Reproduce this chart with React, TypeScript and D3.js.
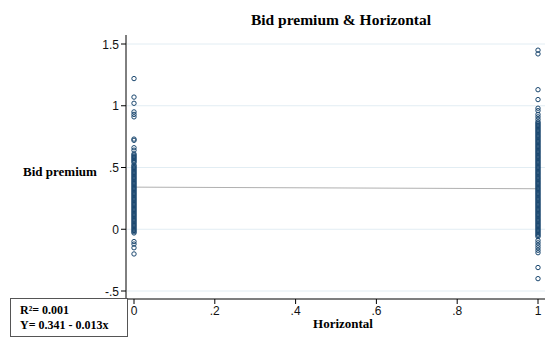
import React from 'react';
import * as d3 from 'd3';

const title = 'Bid premium & Horizontal';
const xLabel = 'Horizontal';
const yLabel = 'Bid premium';
const xTicks = [0, 0.2, 0.4, 0.6, 0.8, 1];
const yTicks = [-0.5, 0, 0.5, 1, 1.5];
const fmt = (v: number) => (v === 0 ? '0' : String(v).replace(/^(-?)0\./, '$1.'));

// Horizontal = 0
const premiumH0 = [
  1.22, 1.07, 1.02, 0.95, 0.93, 0.91, 0.73, 0.72, 0.66, 0.64,
  0.61, 0.60, 0.59, 0.58, 0.57, 0.56, 0.55, 0.54, 0.52, 0.51, 0.50, 0.49, 0.48, 0.47,
  0.46, 0.45, 0.44, 0.43, 0.42, 0.41, 0.40, 0.39, 0.38, 0.37, 0.36, 0.35, 0.34, 0.33,
  0.32, 0.31, 0.30, 0.29, 0.28, 0.27, 0.26, 0.25, 0.24, 0.23, 0.22, 0.21, 0.20, 0.19,
  0.18, 0.17, 0.16, 0.15, 0.14, 0.13, 0.12, 0.11, 0.10, 0.09, 0.08, 0.07, 0.06, 0.05,
  0.04, 0.03, 0.02, 0.01, 0.00, -0.01, -0.02, -0.03,
  -0.10, -0.12, -0.15, -0.20,
];

// Horizontal = 1
const premiumH1 = [
  1.45, 1.42, 1.13, 1.05, 0.98, 0.96, 0.93, 0.91, 0.89,
  0.87, 0.86, 0.85, 0.84, 0.83, 0.82, 0.81, 0.80, 0.79, 0.78, 0.77, 0.76, 0.75, 0.74,
  0.73, 0.72, 0.71, 0.70, 0.69, 0.68, 0.67, 0.66, 0.65, 0.64, 0.63, 0.62, 0.61, 0.60,
  0.59, 0.58, 0.57, 0.56, 0.55, 0.54, 0.53, 0.52, 0.51, 0.50, 0.49, 0.48, 0.47, 0.46,
  0.45, 0.44, 0.43, 0.42, 0.41, 0.40, 0.39, 0.38, 0.37, 0.36, 0.35, 0.34, 0.33, 0.32,
  0.31, 0.30, 0.29, 0.28, 0.27, 0.26, 0.25, 0.24, 0.23, 0.22, 0.21, 0.20, 0.19, 0.18,
  0.17, 0.16, 0.15, 0.14, 0.13, 0.12, 0.11, 0.10, 0.09, 0.08, 0.07, 0.06, 0.05, 0.04,
  0.03, 0.02, 0.01, 0.00, -0.01, -0.02, -0.03, -0.04, -0.05, -0.06,
  -0.09, -0.11, -0.13, -0.15, -0.17, -0.19, -0.31, -0.40,
];

const intercept = 0.341;
const slope = -0.013;
const r2 = 0.001;

const W = 559;
const H = 338;
const serif = '"Liberation Serif", "DejaVu Serif", serif';
const sans = '"Liberation Sans", Arial, sans-serif';
const navy = '#1a476f';

export default function App() {
  const x = d3.scaleLinear().domain([0, 1]).range([134, 538]);
  const y = d3.scaleLinear().domain([-0.5, 1.5]).range([291, 44]);
  const axisX = 126;
  const axisY = 299;
  const right = 545;

  const line = d3.line<number>().x((d) => x(d)).y((d) => y(intercept + slope * d));

  return (
    <svg width={W} height={H} style={{ position: 'absolute', left: 0, top: 0, background: '#fff' }}>
      <rect width={W} height={H} fill="#fff" />
      {yTicks.map((t) => (
        <line key={'g' + t} x1={axisX + 1} x2={right} y1={y(t)} y2={y(t)} stroke="#e2edf3" strokeWidth={1} />
      ))}
      <line x1={axisX} x2={axisX} y1={35} y2={axisY} stroke="#000" strokeWidth={1} />
      <line x1={axisX} x2={right} y1={axisY} y2={axisY} stroke="#000" strokeWidth={1} />
      {yTicks.map((t) => (
        <g key={'y' + t}>
          <line x1={axisX - 5} x2={axisX} y1={y(t)} y2={y(t)} stroke="#000" />
          <text x={axisX - 7} y={y(t) + 4.5} textAnchor="end" fontFamily={sans} fontSize={12} fill="#111">
            {fmt(t)}
          </text>
        </g>
      ))}
      {xTicks.map((t) => (
        <g key={'x' + t}>
          <line x1={x(t)} x2={x(t)} y1={axisY} y2={axisY + 5} stroke="#000" />
          <text x={x(t)} y={axisY + 16} textAnchor="middle" fontFamily={sans} fontSize={12} fill="#111">
            {fmt(t)}
          </text>
        </g>
      ))}
      <path d={line([0, 1]) || ''} stroke="#b0b0b0" strokeWidth={1} fill="none" />
      {premiumH0.map((v, i) => (
        <circle key={'a' + i} cx={x(0)} cy={y(v)} r={2.2} fill="none" stroke={navy} strokeWidth={1} />
      ))}
      {premiumH1.map((v, i) => (
        <circle key={'b' + i} cx={x(1)} cy={y(v)} r={2.2} fill="none" stroke={navy} strokeWidth={1} />
      ))}
      <text x={341} y={25} textAnchor="middle" fontFamily={serif} fontWeight="bold" fontSize={15.5}>
        {title}
      </text>
      <text x={23} y={176} fontFamily={serif} fontWeight="bold" fontSize={13}>
        {yLabel}
      </text>
      <text x={343} y={328} textAnchor="middle" fontFamily={serif} fontWeight="bold" fontSize={13}>
        {xLabel}
      </text>
      <rect x={10.5} y={298.5} width={117} height={38} fill="#fff" stroke="#555" strokeWidth={1} />
      <text x={20} y={314} fontFamily={serif} fontWeight="bold" fontSize={12}>
        {`R²= ${r2.toFixed(3)}`}
      </text>
      <text x={20} y={329} fontFamily={serif} fontWeight="bold" fontSize={12}>
        {`Y= ${intercept.toFixed(3)} - ${Math.abs(slope).toFixed(3)}x`}
      </text>
    </svg>
  );
}
